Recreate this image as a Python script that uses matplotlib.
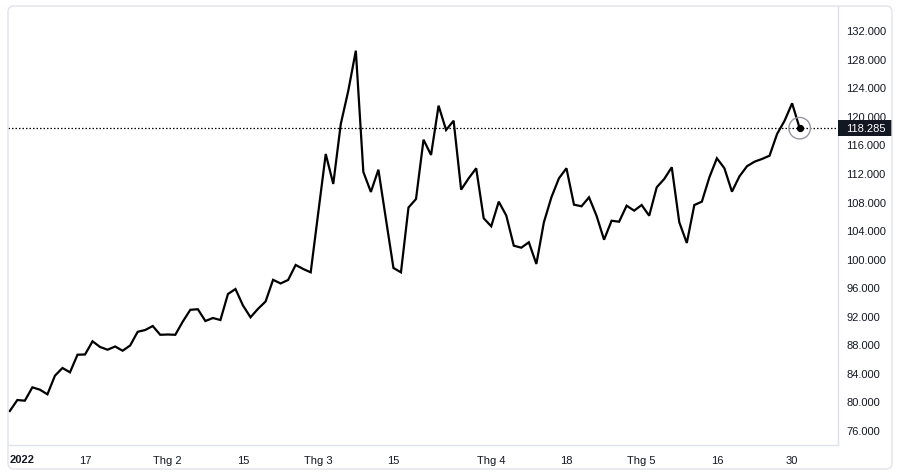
import matplotlib
matplotlib.use("Agg")
import matplotlib.pyplot as plt
import numpy as np
import pandas as pd
from matplotlib.patches import FancyBboxPatch, Rectangle
from matplotlib.transforms import IdentityTransform

plt.rcParams['font.family'] = ['Liberation Sans', 'DejaVu Sans']

# trading days Jan 3 - May 31 2022 (Good Friday closed)
days = pd.bdate_range('2022-01-03', '2022-05-31')
days = days[days != pd.Timestamp('2022-04-15')]

# closing prices
prices = [
    78.66, 80.20, 80.11, 81.98, 81.65, 81.00, 83.61, 84.69, 84.08, 86.55,
    86.58, 88.43, 87.63, 87.25, 87.70, 87.11, 87.84, 89.76, 90.01, 90.57,
    89.34, 89.38, 89.34, 91.20, 92.84, 92.92, 91.27, 91.69, 91.41, 95.05,
    95.75, 93.44, 91.79, 92.98, 94.00, 97.04, 96.53, 97.02, 99.12, 98.56,
    98.09, 106.40, 114.67, 110.47, 118.87, 123.54, 129.14, 112.15, 109.35, 112.47,
    105.56, 98.70, 98.09, 107.17, 108.36, 116.67, 114.53, 121.44, 118.03, 119.33,
    109.67, 111.26, 112.67, 105.66, 104.54, 107.99, 106.05, 101.82, 101.54, 102.30,
    99.26, 105.10, 108.60, 111.26, 112.67, 107.57, 107.34, 108.60, 106.02, 102.66,
    105.32, 105.18, 107.43, 106.73, 107.52, 106.02, 110.00, 111.17, 112.81, 105.10,
    102.20, 107.52, 107.99, 111.40, 114.07, 112.67, 109.39, 111.54, 112.95, 113.59,
    113.97, 114.43, 117.47, 119.33, 121.77, 118.285,
]
last_price = prices[-1]

tick_dates = ['2022-01-17', '2022-02-01', '2022-02-15', '2022-03-01', '2022-03-15',
              '2022-04-01', '2022-04-18', '2022-05-02', '2022-05-16', '2022-05-30']
tick_labels = ['17', 'Thg 2', '15', 'Thg 3', '15', 'Thg 4', '18', 'Thg 5', '16', '30']
y_ticks = list(range(76, 133, 4))

TEXT = '#131722'
GRID = '#e0e3eb'

fig = plt.figure(figsize=(9, 4.77), dpi=100)
ax = fig.add_axes([8 / 900, 31 / 477, 830 / 900, 439 / 477])

pos = np.arange(len(prices))
ax.plot(pos, prices, color='black', lw=1.6, solid_joinstyle='miter', zorder=3)
ax.axhline(last_price, color='black', lw=0.9, ls=(0, (1.2, 1.6)), zorder=2)

# last point marker
ax.scatter([pos[-1]], [last_price], s=240, facecolor='none', edgecolor='#9598a1', lw=1.0, zorder=4)
ax.scatter([pos[-1]], [last_price], s=18, color='black', zorder=5)

ax.set_xlim(-0.24, 110.1)
ax.set_ylim(73.9, 135.4)

day_idx = {d.strftime('%Y-%m-%d'): i for i, d in enumerate(days)}
ax.set_xticks([day_idx[d] for d in tick_dates])
ax.set_xticklabels(tick_labels)
ax.set_yticks(y_ticks)
ax.set_yticklabels([f'{v:.3f}' for v in y_ticks])
ax.yaxis.tick_right()
ax.tick_params(axis='y', length=0, pad=6, labelsize=8, labelcolor=TEXT)
ax.tick_params(axis='x', length=0, pad=7, labelsize=8, labelcolor=TEXT)

for side in ['left', 'top']:
    ax.spines[side].set_visible(False)
for side in ['right', 'bottom']:
    ax.spines[side].set_color(GRID)
    ax.spines[side].set_linewidth(1)

# outer rounded frame
frame = FancyBboxPatch((8, 7), 884, 463, boxstyle='round,pad=0,rounding_size=6',
                       transform=IdentityTransform(), facecolor='none',
                       edgecolor=GRID, lw=1, zorder=0)
fig.patches.append(frame)

# year label at the left edge
ax.text(0.002, -0.032, '2022', transform=ax.transAxes,
        ha='left', va='center', fontsize=8, fontweight='bold', color=TEXT)

# price tag on the right scale
tag_h = 2.24
ax.add_patch(Rectangle((1.0, last_price - tag_h / 2), 54 / 830, tag_h,
                       transform=ax.get_yaxis_transform(), facecolor=TEXT,
                       edgecolor='none', clip_on=False, zorder=10))
ax.text(1.0 + 8 / 830, last_price, f'{last_price:.3f}', transform=ax.get_yaxis_transform(),
        ha='left', va='center', fontsize=8, color='white', zorder=11, clip_on=False)

fig.savefig('out.png', dpi=100, facecolor='white')
